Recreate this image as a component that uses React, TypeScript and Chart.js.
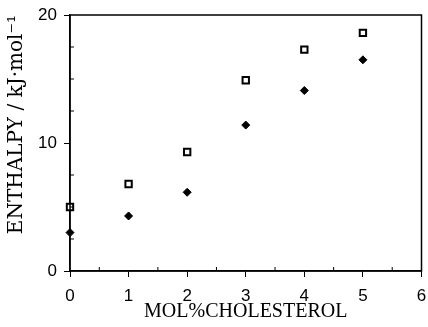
import React, { useEffect, useRef } from "react";
import { Chart, registerables } from "chart.js";

Chart.register(...registerables);

const xValues = [0, 1, 2, 3, 4, 5];
const squareSeries = [5.0, 6.8, 9.3, 14.9, 17.3, 18.6];
const diamondSeries = [3.0, 4.3, 6.15, 11.4, 14.1, 16.5];
const xTicks = [0, 1, 2, 3, 4, 5, 6];
const yTicks = [0, 10, 20];
const xMinor = [0.5, 1.5, 2.5, 3.5, 4.5, 5.5];
const yMinor = [2.5, 5, 7.5, 12.5, 15, 17.5];

const framePlugin = {
  id: "frame",
  afterDatasetsDraw(chart: any) {
    const { ctx, chartArea, scales } = chart;
    ctx.save();
    ctx.strokeStyle = "#000";
    ctx.lineWidth = 1.5;
    ctx.strokeRect(chartArea.left, chartArea.top, chartArea.right - chartArea.left, chartArea.bottom - chartArea.top);
    ctx.lineWidth = 1;
    ctx.beginPath();
    for (const v of xMinor) {
      const px = scales.x.getPixelForValue(v);
      ctx.moveTo(px, chartArea.bottom);
      ctx.lineTo(px, chartArea.bottom - 4);
    }
    for (const v of yMinor) {
      const py = scales.y.getPixelForValue(v);
      ctx.moveTo(chartArea.left, py);
      ctx.lineTo(chartArea.left + 4, py);
    }
    ctx.stroke();
    ctx.restore();
  },
};

export default function App() {
  const ref = useRef<HTMLCanvasElement>(null);
  useEffect(() => {
    const chart = new Chart(ref.current!, {
      type: "scatter",
      data: {
        datasets: [
          {
            data: xValues.map((x, i) => ({ x, y: squareSeries[i] })),
            pointStyle: "rect",
            pointRadius: 4.5,
            backgroundColor: "#fff",
            borderColor: "#000",
            borderWidth: 2,
            clip: false,
          },
          {
            data: xValues.map((x, i) => ({ x, y: squareSeries[i] })),
            pointStyle: "rect",
            pointRadius: 1.2,
            backgroundColor: "#333",
            borderColor: "#333",
            borderWidth: 0,
            clip: false,
          },
          {
            data: xValues.map((x, i) => ({ x, y: diamondSeries[i] })),
            pointStyle: "rectRot",
            pointRadius: 4,
            backgroundColor: "#000",
            borderColor: "#000",
            borderWidth: 1,
            clip: false,
          },
        ],
      },
      options: {
        animation: false,
        responsive: false,
        layout: { padding: { left: 0, top: 15, right: 0, bottom: 0 } },
        plugins: { legend: { display: false }, tooltip: { enabled: false } },
        scales: {
          x: {
            type: "linear",
            min: 0,
            max: 6,
            afterFit(scale: any) {
              scale.height = 56;
              scale.paddingRight = 3;
              scale.paddingLeft = 0;
            },
            afterBuildTicks(scale: any) {
              scale.ticks = xTicks.map((v) => ({ value: v }));
            },
            border: { color: "#000", width: 1.5 },
            grid: { drawOnChartArea: false, color: "#000", tickLength: 6, lineWidth: 1 },
            ticks: {
              color: "#000",
              font: { family: "Liberation Sans", size: 17 },
              padding: 9,
              maxRotation: 0,
            },
            title: {
              display: true,
              text: "MOL%CHOLESTEROL",
              color: "#000",
              font: { family: "Liberation Serif", size: 20 },
              padding: { top: 0, bottom: 3 },
            },
          },
          y: {
            type: "linear",
            min: 0,
            max: 20,
            afterFit(scale: any) {
              scale.width = 70;
              scale.paddingTop = 0;
              scale.paddingBottom = 0;
            },
            afterBuildTicks(scale: any) {
              scale.ticks = yTicks.map((v) => ({ value: v }));
            },
            border: { color: "#000", width: 1.5 },
            grid: { drawOnChartArea: false, color: "#000", tickLength: 6, lineWidth: 1 },
            ticks: {
              color: "#000",
              font: { family: "Liberation Sans", size: 17 },
              padding: 7,
            },
            title: {
              display: true,
              text: "ENTHALPY / kJ·mol⁻¹",
              color: "#000",
              align: "end",
              font: { family: "DejaVu Serif", size: 20 },
              padding: { top: 5, bottom: 0 },
            },
          },
        },
      },
      plugins: [framePlugin],
    });
    return () => chart.destroy();
  }, []);
  return (
    <div style={{ position: "fixed", left: 0, top: 0, width: 428, height: 327, background: "#fff" }}>
      <canvas ref={ref} width={428} height={327} />
    </div>
  );
}
